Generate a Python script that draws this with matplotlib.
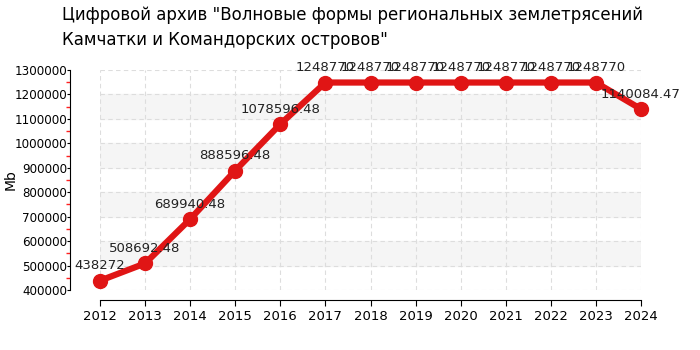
import matplotlib.pyplot as plt
from matplotlib.ticker import MultipleLocator, FuncFormatter

years = [2012, 2013, 2014, 2015, 2016, 2017, 2018, 2019, 2020, 2021, 2022, 2023, 2024]
sizes = [438272, 508692.48, 689940.48, 888596.48, 1078596.48, 1248770, 1248770,
         1248770, 1248770, 1248770, 1248770, 1248770, 1140084.47]
labels = ['438272', '508692.48', '689940.48', '888596.48', '1078596.48', '1248770',
          '1248770', '1248770', '1248770', '1248770', '1248770', '1248770', '1140084.47']

plt.rcParams['font.family'] = 'DejaVu Sans'

fig = plt.figure(figsize=(7, 3.5), dpi=100)
ax = fig.add_axes([100/700, 1 - 290/350, 541/700, 220/350])

ax.set_xlim(2012, 2024)
ax.set_ylim(400000, 1300000)

# alternating background bands
for lo in range(500000, 1300000, 200000):
    ax.axhspan(lo, lo + 100000, color='#f5f5f5', zorder=0)

ax.grid(True, color='#dddddd', linestyle=(0, (4, 3)), linewidth=0.8, zorder=1)
ax.set_axisbelow(True)

ax.plot(years, sizes, color='#e01515', linewidth=4.5, marker='o', markersize=10,
        clip_on=False, zorder=3)

for x, y, t in zip(years, sizes, labels):
    ax.annotate(t, (x, y), xytext=(0, 6), textcoords='offset points',
                ha='center', va='bottom', fontsize=9.5, color='#222222', zorder=4)

ax.spines['top'].set_visible(False)
ax.spines['right'].set_visible(False)
ax.spines['left'].set_position(('outward', 21.6))
ax.spines['bottom'].set_position(('outward', 7.2))

ax.set_xticks(years)
ax.set_xticklabels([str(y) for y in years])
ax.yaxis.set_major_locator(MultipleLocator(100000))
ax.yaxis.set_minor_locator(MultipleLocator(50000))
ax.yaxis.set_major_formatter(FuncFormatter(lambda v, p: f'{int(v)}'))
ax.tick_params(axis='y', which='major', length=2, labelsize=8.6, pad=0)
ax.tick_params(axis='y', which='minor', length=3, width=1, color='#ff2020')
ax.tick_params(axis='x', which='major', length=4, labelsize=9.5)
ax.set_ylabel('Mb', fontsize=10)
ax.yaxis.set_label_coords(-0.152, 0.5)

fig.text(62/700, 1 - 6/350,
         'Цифровой архив "Волновые формы региональных землетрясений\nКамчатки и Командорских островов"',
         ha='left', va='top', fontsize=12, linespacing=1.5)

fig.savefig('out.png', dpi=100)
